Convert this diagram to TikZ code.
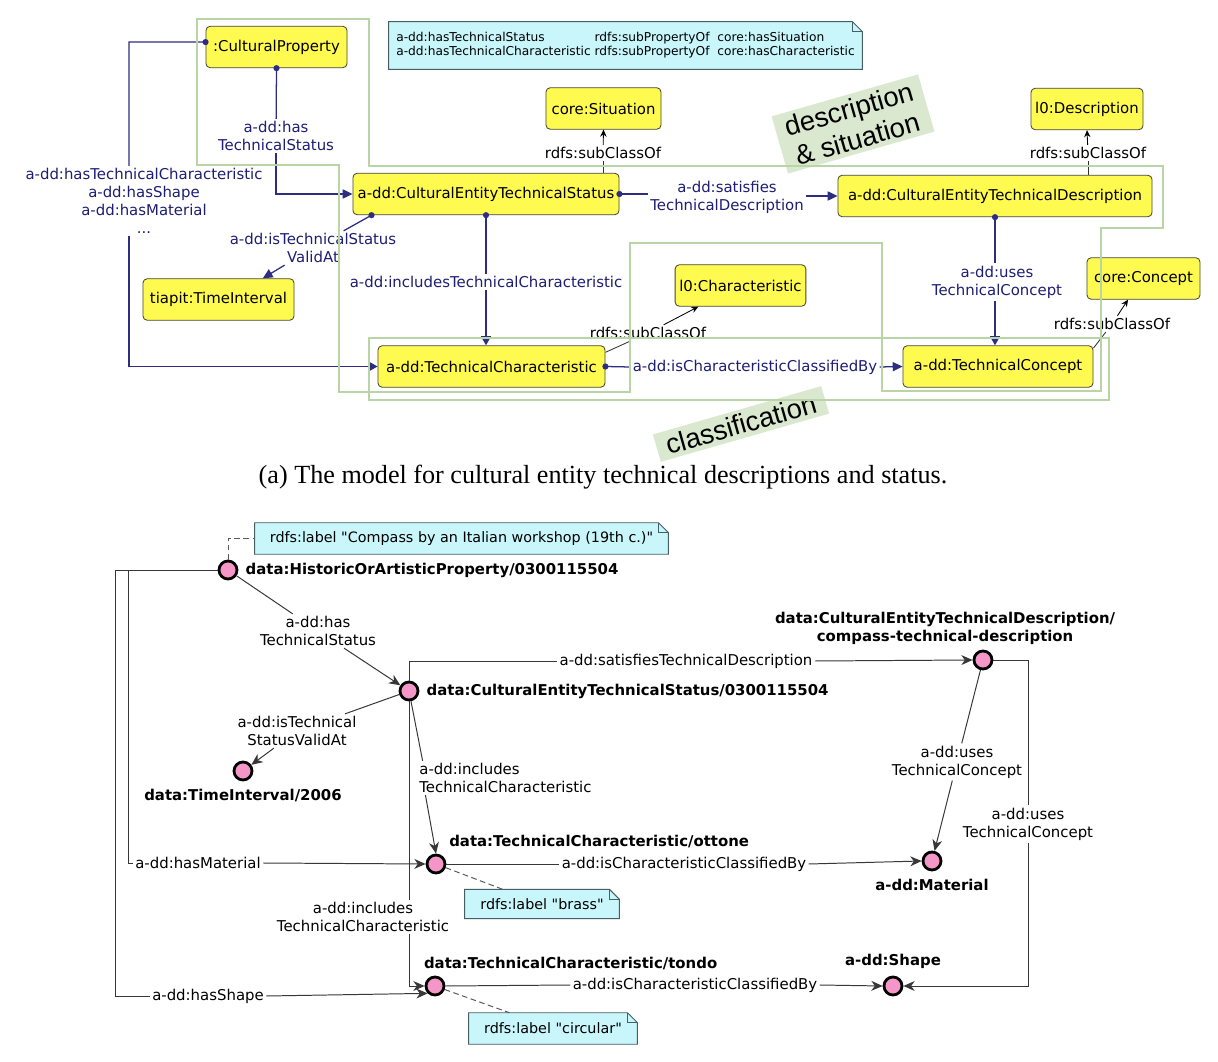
\documentclass[tikz,border=0pt]{standalone}
\usepackage{fontspec}
\newfontfamily\dvsans{DejaVu Sans}
\newfontfamily\capfont{Liberation Serif}
\newfontfamily\grpfont{Liberation Sans}
\usetikzlibrary{positioning, arrows.meta, calc, backgrounds}
\definecolor{navyT}{RGB}{30,30,115}
\definecolor{navyL}{RGB}{45,45,130}
\definecolor{yellowF}{RGB}{255,250,80}
\definecolor{boxL}{RGB}{70,70,50}
\definecolor{greenF}{RGB}{185,213,165}
\definecolor{greenB}{RGB}{218,232,208}
\definecolor{pinkF}{RGB}{245,150,200}
\definecolor{noteF}{RGB}{200,246,250}
\definecolor{noteL}{RGB}{70,95,100}
\definecolor{relL}{RGB}{55,55,55}
% folded corner of a note
\newcommand{\dogear}[1]{%
  \fill[noteF, draw=noteL, line width=0.7pt] (#1.south west) -- (#1.north west)
    -- ([xshift=-7pt]#1.north east) -- ([yshift=-7pt]#1.north east) -- (#1.south east) -- cycle;
  \draw[noteL, line width=0.7pt] ([xshift=-7pt]#1.north east) |- ([yshift=-7pt]#1.north east);}
\newcommand{\pdot}[1]{\fill[navyL] #1 circle (2.2pt);}

\begin{document}
\begin{tikzpicture}
[x=0.025cm, y=-0.025cm,
 font=\dvsans\fontsize{10.6}{12.8}\selectfont,
 cls/.style={shape=rectangle, rounded corners=3pt, draw=boxL, fill=yellowF, line width=0.6pt,
   minimum height=29.5pt, inner xsep=3pt},
 bw/.style={minimum width=#1*0.7113pt},
 prop/.style={text=navyT, align=center, inner sep=1.5pt},
 subl/.style={inner sep=1.5pt},
 op/.style={draw=navyL, line width=0.9pt},
 tri/.style={-{Triangle[length=7pt,width=6.5pt]}},
 bartri/.style={-{Bar[width=7pt,line width=0.8pt] Triangle[length=6pt,width=6.5pt]}},
 isa/.style={draw=black, line width=0.6pt, -{Stealth[length=5pt,width=4.5pt]}},
 isl/.style={draw=black!80, line width=0.6pt},
 grpframe/.style={draw=greenF, line width=0.9pt},
 grp/.style={fill=greenB, align=center, inner xsep=7pt, inner ysep=3pt,
   font=\grpfont\fontsize{19.5}{22}\selectfont},
 notebox/.style={inner sep=2pt, font=\dvsans\fontsize{10.2}{12}\selectfont},
 inst/.style={circle, draw=black, fill=pinkF, line width=2pt, minimum size=12.8pt, inner sep=0pt},
 iname/.style={inner sep=2pt, font=\dvsans\bfseries\fontsize{10.6}{12.8}\selectfont},
 lab/.style={align=center, inner sep=1.5pt},
 rel/.style={draw=relL, line width=0.7pt},
 stl/.style={-{Stealth[length=8pt,width=7pt,inset=2.5pt]}},
 dsh/.style={draw=black!65, dash pattern=on 4pt off 2.5pt, line width=0.7pt}]
\useasboundingbox (0,0) rectangle (1218,1062);

%% (a) model
\node[cls, bw=141] (cp) at (276.5,47) {:CulturalProperty};
\node[cls, bw=115] (sit) at (603.5,108.5) {core:Situation};
\node[cls, bw=266] (cets) at (486,194) {a-dd:CulturalEntityTechnicalStatus};
\node[cls, bw=314] (cetd) at (995,196) {a-dd:CulturalEntityTechnicalDescription};
\node[cls, bw=112] (desc) at (1087,109) {l0:Description};
\node[cls, bw=151] (ti) at (218.5,299.5) {tiapit:TimeInterval};
\node[cls, bw=227] (tc) at (491.5,366.5) {a-dd:TechnicalCharacteristic};
\node[cls, bw=125] (lchar) at (740.5,285.5) {l0:Characteristic};
\node[cls, bw=190] (tcon) at (998,366.5) {a-dd:TechnicalConcept};
\node[cls, bw=113] (con) at (1143.5,278.5) {core:Concept};

\node[notebox, bw=473, minimum height=33.4pt] (nt) at (625.5,45.5)
{\fontsize{8.7}{10}\selectfont\begin{tabular}{@{}l@{ }l@{\ \ }l@{}}
a-dd:hasTechnicalStatus & rdfs:subPropertyOf & core:hasSituation\\
a-dd:hasTechnicalCharacteristic & rdfs:subPropertyOf & core:hasCharacteristic
\end{tabular}};

\node[prop] (lhts) at (276,136) {a-dd:has\\TechnicalStatus};
\node[prop] (lhtc) at (144,201) {a-dd:hasTechnicalCharacteristic\\a-dd:hasShape\\a-dd:hasMaterial\\...};
\node[prop] (lvalid) at (313,248) {a-dd:isTechnicalStatus\\ValidAt};
\node[prop] (linc) at (486,282) {a-dd:includesTechnicalCharacteristic};
\node[prop] (lsat) at (727,197) {a-dd:satisfies\\TechnicalDescription};
\node[prop] (luse) at (997,282) {a-dd:uses\\TechnicalConcept};
\node[prop] (lcls) at (755,367) {a-dd:isCharacteristicClassifiedBy};
\node[subl] (ls1) at (603,153) {rdfs:subClassOf};
\node[subl] (ls2) at (1088,153) {rdfs:subClassOf};
\node[subl] (ls3) at (648,333) {rdfs:subClassOf};
\node[subl] (ls4) at (1112,324) {rdfs:subClassOf};

\draw[op] (cp.south) -- (lhts);
\draw[op, tri] (lhts) |- (cets.west);
\pdot{(cp.south)}
\coordinate (hk) at (129,42);
\draw[op] ([yshift=3.5pt]cp.west) -- (hk) -- (hk |- lhtc.north);
\draw[op, bartri] (hk |- lhtc.south) |- (tc.west);
\pdot{([yshift=3.5pt]cp.west)}
\draw[op] ([xshift=13.5pt]cets.south west) -- (lvalid);
\draw[op, tri] (lvalid) -- ([xshift=31.5pt]ti.north);
\pdot{([xshift=13.5pt]cets.south west)}
\draw[op] (cets.south) -- (linc);
\draw[op, bartri] (linc) -- (linc.south |- tc.north);
\pdot{(cets.south)}
\draw[op] (cets.east) -- (cets.east -| lsat.west);
\draw[op, tri] (lsat.east |- cetd.west) -- (cetd.west);
\pdot{(cets.east)}
\draw[op] (cetd.south) -- (cetd.south |- luse.north);
\draw[op, bartri] (cetd.south |- luse.south) -- (cetd.south |- tcon.north);
\pdot{(cetd.south)}
\draw[op] (tc.east) -- (lcls.west);
\draw[op, tri] (lcls.east) -- (tcon.west);
\pdot{(tc.east)}

\draw[isa] (ls1) -- (sit.south);
\draw[isl] (ls1.south) -- (ls1.south |- cets.north);
\draw[isa] (ls2) -- (desc.south);
\draw[isl] (ls2.south) -- (ls2.south |- cetd.north);
\draw[isl] ([yshift=-5pt]tc.north east) -- (ls3);
\draw[isa] (ls3) -- ([xshift=-30pt]lchar.south);
\draw[isl] ([yshift=-2pt]tcon.north east) -- (ls4);
\draw[isa] (ls4) -- ([xshift=-11pt]con.south);

\node[grp, rotate=16] (gds) at (853,124) {description\\\& situation};
\node[grp, rotate=16] (gcl) at (741,424) {classification};
\draw[grpframe] (197,19) -- (369,19) -- (369,166) -- (1163,166) -- (1163,228) -- (1101,228)
  -- (1101,391) -- (882,391) -- (882,243) -- (630,243) -- (630,392) -- (339,392)
  -- (339,165) -- (197,165) -- cycle;
\draw[grpframe] (369,338) rectangle (1109,400);

\node[font=\capfont\fontsize{18.6}{22}\selectfont] (cap) at (603,477)
  {(a) The model for cultural entity technical descriptions and status.};

%% (b) data
\node[inst] (hoap) at (228,570) {};
\node[inst] (cetsI) at (409,691) {};
\node[inst] (cetdI) at (983,660) {};
\node[inst] (tiI) at (243,771) {};
\node[inst] (ott) at (436,864) {};
\node[inst] (ton) at (435,986) {};
\node[inst] (mat) at (932,861) {};
\node[inst] (shp) at (893,986) {};

\node[iname, right=3pt of hoap] (nhoap) {data:HistoricOrArtisticProperty/0300115504};
\node[iname, right=3pt of cetsI] (ncets) {data:CulturalEntityTechnicalStatus/0300115504};
\node[iname, align=center, above=1pt of cetdI, xshift=-27pt] (ncetd)
  {data:CulturalEntityTechnicalDescription/\\compass-technical-description};
\node[iname, below=3pt of tiI] (nti) {data:TimeInterval/2006};
\node[iname, above right=4pt and 2pt of ott] (nott) {data:TechnicalCharacteristic/ottone};
\node[iname, anchor=south west] (nton) at ([xshift=-10pt,yshift=2pt]ton.north)
  {data:TechnicalCharacteristic/tondo};
\node[iname, below=3pt of mat] (nmat) {a-dd:Material};
\node[iname, above=3pt of shp] (nshp) {a-dd:Shape};

\node[notebox, bw=413, minimum height=22pt] (nb1) at (461.5,538.5)
  {rdfs:label "Compass by an Italian workshop (19th c.)"};
\node[notebox, bw=154, minimum height=20.5pt] (nb2) at (542,904) {rdfs:label "brass"};
\node[notebox, bw=168, minimum height=22pt] (nb3) at (553,1028.5) {rdfs:label "circular"};

\node[lab] (bhts) at (318,631) {a-dd:has\\TechnicalStatus};
\node[lab] (bvalid) at (297,731) {a-dd:isTechnical\\StatusValidAt};
\node[lab] (bsat) at (686,661) {a-dd:satisfiesTechnicalDescription};
\node[lab, align=left, anchor=west] (bincA) at (417,778) {a-dd:includes\\TechnicalCharacteristic};
\node[lab] (bincB) at (363,917) {a-dd:includes\\TechnicalCharacteristic};
\node[lab] (bmat) at (198,863) {a-dd:hasMaterial};
\node[lab] (bshp) at (208,996) {a-dd:hasShape};
\node[lab] (bcls1) at (684,864) {a-dd:isCharacteristicClassifiedBy};
\node[lab] (bcls2) at (695,985) {a-dd:isCharacteristicClassifiedBy};
\node[lab] (buse1) at (957,762) {a-dd:uses\\TechnicalConcept};
\node[lab] (buse2) at (1028,824) {a-dd:uses\\TechnicalConcept};

\coordinate (ka) at (115,570);
\coordinate (kb) at (128,570);
\draw[rel] (hoap.west) -- (ka) |- (bshp.west);
\draw[rel, stl] (bshp.east) -- (ton.south west);
\draw[rel] (hoap.west) -- (kb) |- (bmat.west);
\draw[rel, stl] (bmat.east) -- (ott.west);
\draw[rel] (hoap) -- (bhts);
\draw[rel, stl] (bhts) -- (cetsI);
\draw[rel] (cetsI) -- (bvalid);
\draw[rel, stl] (bvalid) -- (tiI);
\draw[rel] (cetsI.north) |- (bsat.west);
\draw[rel, stl] (bsat.east) -- (cetdI.west);
\draw[rel] (cetsI) -- ([xshift=4pt]bincA.north west);
\draw[rel, stl] ([xshift=6pt]bincA.south west) -- (ott.north);
\draw[rel] (cetsI.south) -- (cetsI.south |- bincB.north);
\draw[rel, stl] (cetsI.south |- bincB.south) |- (ton.west);
\draw[rel] (cetdI) -- (buse1);
\draw[rel, stl] (buse1) -- (mat);
\draw[rel] (cetdI.east) -| (buse2.north);
\draw[rel, stl] (buse2.south) |- (shp.east);
\draw[rel] (ott.east) -- (bcls1.west);
\draw[rel, stl] (bcls1.east) -- (mat.west);
\draw[rel] (ton.east) -- (bcls2.west);
\draw[rel, stl] (bcls2.east) -- (shp.west);
\draw[dsh] (hoap.north) |- (nb1.west);
\draw[dsh] (ott) -- ([xshift=27pt]nb2.north west);
\draw[dsh] (ton) -- ([xshift=29pt]nb3.north west);

\begin{scope}[on background layer]
\fill[white] (0,0) rectangle (1218,1062);
\dogear{nt}
\dogear{nb1}
\dogear{nb2}
\dogear{nb3}
\end{scope}
\end{tikzpicture}
\end{document}
